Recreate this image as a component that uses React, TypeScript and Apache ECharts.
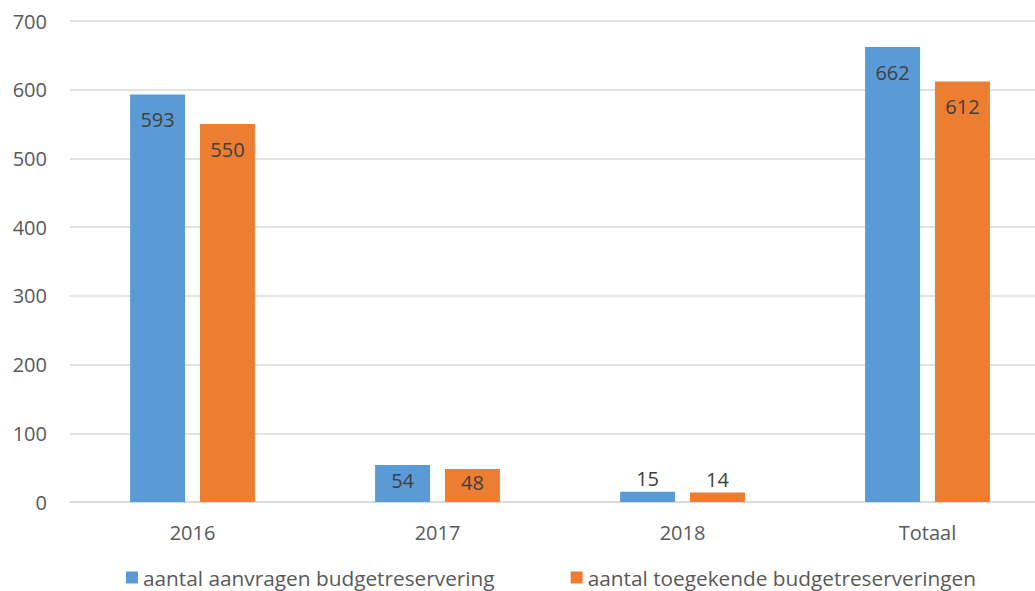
import React, { useEffect, useRef } from "react";
import * as echarts from "echarts";

const categories = ["2016", "2017", "2018", "Totaal"];
const aanvragen = [593, 54, 15, 662];
const toegekend = [550, 48, 14, 612];
const seriesNames = ["aantal aanvragen budgetreservering", "aantal toegekende budgetreserveringen"];
const yTicks = { min: 0, max: 700, interval: 100 };

const FONT = "'Open Sans', 'Liberation Sans', sans-serif";

function mkData(vals: number[]) {
  return vals.map((v) => ({
    value: v,
    label:
      v < 30
        ? { position: "top", distance: 3 }
        : v < 100
        ? { position: "inside", offset: [0, -3] }
        : { position: "insideTop", distance: 15 },
  }));
}

export default function App() {
  const ref = useRef<HTMLDivElement>(null);
  useEffect(() => {
    const chart = echarts.init(ref.current!, null, { renderer: "svg" });
    const label = { show: true, color: "#404040", fontSize: 20, fontFamily: FONT };
    chart.setOption({
      animation: false,
      textStyle: { fontFamily: FONT },
      grid: { left: 70, right: 0, top: 21, bottom: 89, containLabel: false },
      legend: {
        top: 562,
        left: 121,
        itemWidth: 12,
        itemHeight: 12,
        itemGap: 76,
        itemTextGap: 6,
        icon: "rect",
        textStyle: { fontSize: 20.8, color: "#595959", fontFamily: FONT },
        data: seriesNames,
      },
      xAxis: {
        type: "category",
        data: categories,
        axisLine: { lineStyle: { color: "#d9d9d9", width: 1.5 } },
        axisTick: { show: false },
        axisLabel: { color: "#595959", fontSize: 20, margin: 20, fontFamily: FONT },
      },
      yAxis: {
        type: "value",
        min: yTicks.min,
        max: yTicks.max,
        interval: yTicks.interval,
        axisLine: { show: false },
        axisTick: { show: false },
        splitLine: { lineStyle: { color: "#d9d9d9", width: 1.5 } },
        axisLabel: { color: "#595959", fontSize: 20, margin: 23, fontFamily: FONT },
      },
      series: [
        {
          name: seriesNames[0],
          type: "bar",
          data: mkData(aanvragen),
          itemStyle: { color: "#5B9BD5" },
          barWidth: 55,
          barGap: "27%",
          label,
        },
        {
          name: seriesNames[1],
          type: "bar",
          data: mkData(toegekend),
          itemStyle: { color: "#ED7D31" },
          barWidth: 55,
          label,
        },
      ],
    });
    return () => chart.dispose();
  }, []);
  return (
    <div style={{ width: 1035, height: 591, position: "absolute", left: 0, top: 0, overflow: "hidden" }}>
      <div ref={ref} style={{ width: 1050, height: 591, position: "absolute", left: 0, top: 0 }} />
    </div>
  );
}
